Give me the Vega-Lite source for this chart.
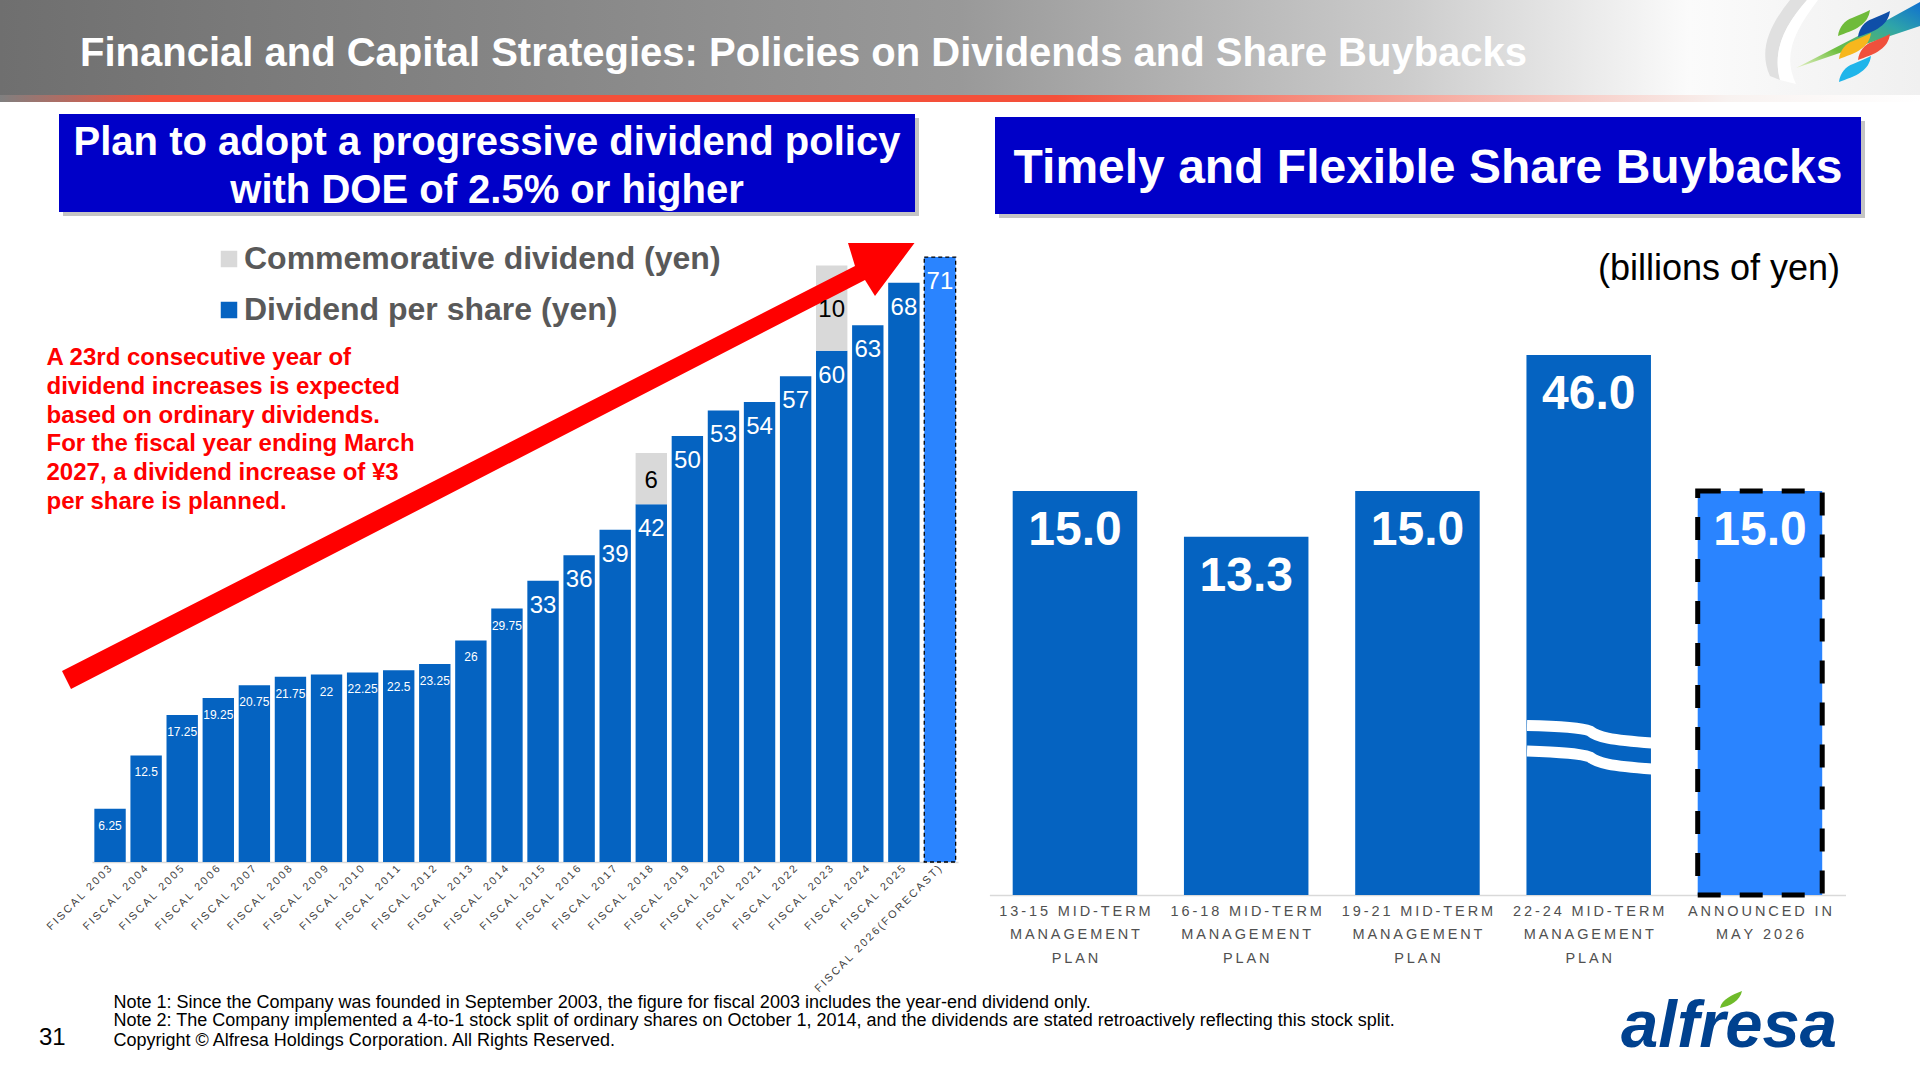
{
  "$schema": "https://vega.github.io/schema/vega-lite/v6.json",
  "padding": 0,
  "bounds": "flush",
  "spacing": 0,
  "background": "white",
  "datasets": {
    "dividends": [
      {"year": "FISCAL 2003", "series": "Dividend per share (yen)", "value": 6.25},
      {"year": "FISCAL 2004", "series": "Dividend per share (yen)", "value": 12.5},
      {"year": "FISCAL 2005", "series": "Dividend per share (yen)", "value": 17.25},
      {"year": "FISCAL 2006", "series": "Dividend per share (yen)", "value": 19.25},
      {"year": "FISCAL 2007", "series": "Dividend per share (yen)", "value": 20.75},
      {"year": "FISCAL 2008", "series": "Dividend per share (yen)", "value": 21.75},
      {"year": "FISCAL 2009", "series": "Dividend per share (yen)", "value": 22},
      {"year": "FISCAL 2010", "series": "Dividend per share (yen)", "value": 22.25},
      {"year": "FISCAL 2011", "series": "Dividend per share (yen)", "value": 22.5},
      {"year": "FISCAL 2012", "series": "Dividend per share (yen)", "value": 23.25},
      {"year": "FISCAL 2013", "series": "Dividend per share (yen)", "value": 26},
      {"year": "FISCAL 2014", "series": "Dividend per share (yen)", "value": 29.75},
      {"year": "FISCAL 2015", "series": "Dividend per share (yen)", "value": 33},
      {"year": "FISCAL 2016", "series": "Dividend per share (yen)", "value": 36},
      {"year": "FISCAL 2017", "series": "Dividend per share (yen)", "value": 39},
      {"year": "FISCAL 2018", "series": "Dividend per share (yen)", "value": 42},
      {"year": "FISCAL 2018", "series": "Commemorative dividend (yen)", "value": 6},
      {"year": "FISCAL 2019", "series": "Dividend per share (yen)", "value": 50},
      {"year": "FISCAL 2020", "series": "Dividend per share (yen)", "value": 53},
      {"year": "FISCAL 2021", "series": "Dividend per share (yen)", "value": 54},
      {"year": "FISCAL 2022", "series": "Dividend per share (yen)", "value": 57},
      {"year": "FISCAL 2023", "series": "Dividend per share (yen)", "value": 60},
      {"year": "FISCAL 2023", "series": "Commemorative dividend (yen)", "value": 10},
      {"year": "FISCAL 2024", "series": "Dividend per share (yen)", "value": 63},
      {"year": "FISCAL 2025", "series": "Dividend per share (yen)", "value": 68},
      {"year": "FISCAL 2026(FORECAST)", "series": "Dividend per share (yen)", "value": 71}
    ],
    "buybacks": [
      {"plan": "13-15 MID-TERM MANAGEMENT PLAN", "value": 15.0, "label": "15.0"},
      {"plan": "16-18 MID-TERM MANAGEMENT PLAN", "value": 13.3, "label": "13.3"},
      {"plan": "19-21 MID-TERM MANAGEMENT PLAN", "value": 15.0, "label": "15.0"},
      {"plan": "22-24 MID-TERM MANAGEMENT PLAN", "value": 46.0, "label": "46.0"},
      {"plan": "ANNOUNCED IN MAY 2026", "value": 15.0, "label": "15.0"}
    ],
    "one": [{}]
  },
  "vconcat": [
    {
      "width": 1920,
      "height": 102,
      "data": {"name": "one"},
      "layer": [
        {"mark": {"type": "rect", "x": 0, "x2": 1920, "y": 0, "y2": 96, "fill": {"x1": 0, "y1": 0, "x2": 1, "y2": 0, "gradient": "linear", "stops": [{"offset": 0, "color": "#6f6f6f"}, {"offset": 0.5, "color": "#999999"}, {"offset": 0.73, "color": "#cbcbcb"}, {"offset": 0.88, "color": "#fbfbfb"}, {"offset": 1, "color": "#f0f0f0"}]}}},
        {"mark": {"type": "rect", "x": 0, "x2": 1920, "y": 95, "y2": 102, "fill": {"x1": 0, "y1": 0, "x2": 1, "y2": 0, "gradient": "linear", "stops": [{"offset": 0, "color": "#808080"}, {"offset": 0.08, "color": "#f4503a"}, {"offset": 0.55, "color": "#f4503a"}, {"offset": 0.9, "color": "#f8f2f0"}, {"offset": 1, "color": "#ffffff"}]}}},
        {"mark": {"type": "point", "x": 0, "y": 0, "size": 4, "filled": true, "opacity": 1, "fill": "#e0e0e0", "stroke": null, "shape": "M1790 0 L1807 0 C1785 25 1772 50 1780 80 L1770 76 C1758 50 1770 25 1790 0 Z"}},
        {"mark": {"type": "point", "x": 0, "y": 0, "size": 4, "filled": true, "opacity": 1, "fill": "#ffffff", "stroke": null, "shape": "M1807 0 L1818 0 C1795 30 1782 55 1796 84 L1780 80 C1772 50 1785 25 1807 0 Z"}},
        {"mark": {"type": "point", "x": 0, "y": 0, "size": 4, "filled": true, "opacity": 1, "stroke": null, "fill": {"x1": 0, "y1": 1, "x2": 1, "y2": 0, "gradient": "linear", "stops": [{"offset": 0, "color": "#e8f2c8"}, {"offset": 0.3, "color": "#6fbf3f"}, {"offset": 0.7, "color": "#2fa5a8"}, {"offset": 1, "color": "#0f6fd0"}]}, "shape": "M1796 68 L1858 36 L1920 2 L1920 26 L1860 46 Z"}},
        {"mark": {"type": "point", "x": 0, "y": 0, "size": 4, "filled": true, "opacity": 1, "stroke": null, "fill": "#6fbb3a", "shape": "M1838 36 C1839 27 1845 20 1852 18 C1858 15 1865 13 1870 10 C1869 17 1866 22 1860 26 C1854 31 1845 33 1838 36 Z"}},
        {"mark": {"type": "point", "x": 0, "y": 0, "size": 4, "filled": true, "opacity": 1, "stroke": null, "fill": "#0f4fa8", "shape": "M1858 37 C1859 28 1865 21 1872 19 C1878 16 1885 14 1890 11 C1889 18 1886 23 1880 27 C1874 32 1865 34 1858 37 Z"}},
        {"mark": {"type": "point", "x": 0, "y": 0, "size": 4, "filled": true, "opacity": 1, "stroke": null, "fill": "#f7b71d", "shape": "M1839 59 C1840 50 1846 43 1853 41 C1859 38 1866 36 1871 33 C1870 40 1867 45 1861 49 C1855 54 1846 56 1839 59 Z"}},
        {"mark": {"type": "point", "x": 0, "y": 0, "size": 4, "filled": true, "opacity": 1, "stroke": null, "fill": "#f0503c", "shape": "M1858 60 C1859 51 1865 44 1872 42 C1878 39 1885 37 1890 34 C1889 41 1886 46 1880 50 C1874 55 1865 57 1858 60 Z"}},
        {"mark": {"type": "point", "x": 0, "y": 0, "size": 4, "filled": true, "opacity": 1, "stroke": null, "fill": "#1fb5ea", "shape": "M1839 82 C1840 73 1846 66 1853 64 C1859 61 1866 59 1871 56 C1870 63 1867 68 1861 72 C1855 77 1846 79 1839 82 Z"}},
        {"mark": {"type": "text", "text": "Financial and Capital Strategies: Policies on Dividends and Share Buybacks", "x": 80, "y": 54, "align": "left", "baseline": "middle", "font": "Liberation Sans", "fontWeight": "bold", "fontSize": 40, "fill": "white"}}
      ]
    },
    {
      "spacing": 0,
      "bounds": "flush",
      "hconcat": [
        {
          "width": 985,
          "height": 760,
          "data": {"name": "dividends"},
          "encoding": {
            "x": {
              "field": "year",
              "type": "nominal",
              "sort": null,
              "title": null,
              "scale": {"range": [92, 958], "paddingInner": 0.13, "paddingOuter": 0.065},
              "axis": {
                "labelAngle": -45,
                "labelAlign": "right",
                "labelBaseline": "middle",
                "labelFont": "Liberation Sans",
                "labelFontSize": 10.8,
                "labelColor": "#404040",
                "labelPadding": 5,
                "labelOverlap": false,
                "labelLimit": 0,
                "labelExpr": "join(split(datum.label,''),'\u2009')",
                "ticks": false,
                "domainColor": "#d9d9d9",
                "domainWidth": 1.5
              }
            },
            "y": {
              "field": "value",
              "type": "quantitative",
              "scale": {"domain": [0, 89.2], "nice": false},
              "axis": null
            }
          },
          "layer": [
            {
              "transform": [{"filter": "datum.year != 'FISCAL 2026(FORECAST)'"}],
              "mark": {"type": "bar"},
              "encoding": {
                "color": {
                  "field": "series",
                  "type": "nominal",
                  "scale": {"domain": ["Commemorative dividend (yen)", "Dividend per share (yen)"], "range": ["#d9d9d9", "#0563c1"]},
                  "legend": {
                    "title": null,
                    "orient": "none",
                    "legendX": 213,
                    "legendY": 243,
                    "symbolType": "square",
                    "symbolSize": 272,
                    "symbolStrokeWidth": 0,
                    "labelFont": "Liberation Sans",
                    "labelFontSize": 32,
                    "labelFontWeight": "bold",
                    "labelColor": "#595959",
                    "labelOffset": -1,
                    "labelLimit": 0,
                    "rowPadding": 19
                  }
                }
              }
            },
            {
              "transform": [{"filter": "datum.year == 'FISCAL 2026(FORECAST)'"}],
              "mark": {"type": "bar", "fill": "#2a84ff", "stroke": "#000000", "strokeWidth": 1.3, "strokeDash": [4, 3]}
            },
            {
              "data": {"name": "one"},
              "mark": {"type": "rect", "x": 63, "x2": 919, "y": 16, "y2": 114, "fill": "#c4c4c4"},
              "encoding": {"x": null, "y": null}
            },
            {
              "data": {"name": "one"},
              "mark": {"type": "rect", "x": 59, "x2": 915, "y": 12, "y2": 110, "fill": "#0000c8"},
              "encoding": {"x": null, "y": null}
            },
            {
              "data": {"name": "one"},
              "mark": {"type": "text", "text": ["Plan to adopt a progressive dividend policy", "with DOE of 2.5% or higher"], "x": 487, "y": 41, "align": "center", "baseline": "middle", "lineHeight": 47.5, "font": "Liberation Sans", "fontWeight": "bold", "fontSize": 40, "fill": "white"},
              "encoding": {"x": null, "y": null}
            },
            {
              "data": {"name": "one"},
              "mark": {"type": "text", "text": ["A 23rd consecutive year of", "dividend increases is expected", "based on ordinary dividends.", "For the fiscal year ending March", "2027, a dividend increase of ¥3", "per share is planned."], "x": 46.5, "y": 256, "align": "left", "baseline": "middle", "lineHeight": 28.8, "font": "Liberation Sans", "fontWeight": "bold", "fontSize": 24, "fill": "#ff0000"},
              "encoding": {"x": null, "y": null}
            },
            {
              "data": {"name": "one"},
              "mark": {"type": "point", "x": 0, "y": 0, "size": 4, "filled": true, "opacity": 1, "fill": "#ff0000", "stroke": null, "shape": "M62 569 L855 164 L848 141 L914.5 141 L875 194 L865 178 L71 587 Z"},
              "encoding": {"x": null, "y": null}
            },
            {
              "transform": [{"filter": "datum.series == 'Dividend per share (yen)' && datum.value < 33"}],
              "mark": {"type": "text", "color": "white", "font": "Liberation Sans", "fontSize": 12, "dy": 17, "baseline": "middle"},
              "encoding": {"text": {"field": "value", "type": "nominal"}}
            },
            {
              "transform": [{"filter": "datum.series == 'Dividend per share (yen)' && datum.value >= 33"}],
              "mark": {"type": "text", "color": "white", "font": "Liberation Sans", "fontSize": 24, "dy": 25, "baseline": "middle"},
              "encoding": {"text": {"field": "value", "type": "nominal"}}
            },
            {
              "mark": {"type": "text", "color": "black", "font": "Liberation Sans", "fontSize": 24, "dy": 2, "baseline": "middle"},
              "encoding": {
                "y": {"field": "value", "type": "quantitative", "stack": "zero", "bandPosition": 0.5},
                "detail": {"field": "series"},
                "text": {"condition": {"test": "datum.series == 'Commemorative dividend (yen)'", "field": "value", "type": "nominal"}, "value": ""}
              }
            },
            {
              "data": {"name": "one"},
              "mark": {"type": "text", "text": "Note 1: Since the Company was founded in September 2003, the figure for fiscal 2003 includes the year-end dividend only.", "x": 113.5, "y": 901, "align": "left", "baseline": "middle", "font": "Liberation Sans", "fontSize": 18, "fill": "black"},
              "encoding": {"x": null, "y": null}
            },
            {
              "data": {"name": "one"},
              "mark": {"type": "text", "text": "Note 2: The Company implemented a 4-to-1 stock split of ordinary shares on October 1, 2014, and the dividends are stated retroactively reflecting this stock split.", "x": 113.5, "y": 918.7, "align": "left", "baseline": "middle", "font": "Liberation Sans", "fontSize": 18, "fill": "black"},
              "encoding": {"x": null, "y": null}
            },
            {
              "data": {"name": "one"},
              "mark": {"type": "text", "text": "Copyright © Alfresa Holdings Corporation. All Rights Reserved.", "x": 113.5, "y": 938.7, "align": "left", "baseline": "middle", "font": "Liberation Sans", "fontSize": 18, "fill": "black"},
              "encoding": {"x": null, "y": null}
            },
            {
              "data": {"name": "one"},
              "mark": {"type": "text", "text": "31", "x": 39, "y": 936, "align": "left", "baseline": "middle", "font": "Liberation Sans", "fontSize": 24, "fill": "black"},
              "encoding": {"x": null, "y": null}
            },
            {
              "data": {"name": "one"},
              "mark": {"type": "text", "text": "alfresa", "x": 1621, "y": 945, "align": "left", "baseline": "alphabetic", "font": "Liberation Sans", "fontWeight": "bold", "fontStyle": "italic", "fontSize": 67, "fill": "#00418f"},
              "encoding": {"x": null, "y": null}
            },
            {
              "data": {"name": "one"},
              "mark": {"type": "point", "x": 0, "y": 0, "size": 4, "filled": true, "opacity": 1, "stroke": null, "fill": "#6fbb2a", "shape": "M1720 906 C1722 897 1732 893 1742 889 C1740 899 1730 904 1720 906 Z"},
              "encoding": {"x": null, "y": null}
            }
          ]
        },
        {
          "width": 935,
          "height": 793,
          "data": {"name": "buybacks"},
          "encoding": {
            "x": {
              "field": "plan",
              "type": "nominal",
              "sort": null,
              "title": null,
              "scale": {"range": [4.4, 860.5], "paddingInner": 0.273, "paddingOuter": 0.136},
              "axis": {
                "labelAngle": 0,
                "labelAlign": "center",
                "labelBaseline": "top",
                "labelFont": "Liberation Sans",
                "labelFontSize": 14.5,
                "labelLineHeight": 23.5,
                "labelColor": "#505050",
                "labelPadding": 9,
                "labelOverlap": false,
                "labelLimit": 0,
                "labelExpr": "split(join(split(replace(replace(replace(datum.label,' MANAGEMENT','|MANAGEMENT'),' PLAN','|PLAN'),' MAY','|MAY'),''),'\u2009'),'\u2009|\u2009')",
                "ticks": false,
                "domainColor": "#d9d9d9",
                "domainWidth": 1.5
              }
            },
            "y": {
              "field": "value",
              "type": "quantitative",
              "scale": {"domain": [0, 15, 46], "range": [793, 389, 253], "nice": false, "zero": false},
              "axis": null
            }
          },
          "layer": [
            {
              "transform": [{"filter": "datum.plan != 'ANNOUNCED IN MAY 2026'"}],
              "mark": {"type": "bar", "fill": "#0563c1"}
            },
            {
              "transform": [{"filter": "datum.plan == 'ANNOUNCED IN MAY 2026'"}],
              "mark": {"type": "bar", "fill": "#2a84ff", "stroke": "#000000", "strokeWidth": 5, "strokeDash": [23, 19]}
            },
            {
              "data": {"name": "one"},
              "mark": {"type": "point", "x": 0, "y": 0, "size": 4, "filled": false, "opacity": 1, "stroke": "white", "strokeWidth": 11, "shape": "M542 623.5 C570 624 595 625 605 629 C612 635 625 638 667 641 M542 649 C570 650 595 651 605 655 C612 661 625 664 667 667"},
              "encoding": {"x": null, "y": null}
            },
            {
              "mark": {"type": "text", "color": "white", "font": "Liberation Sans", "fontWeight": "bold", "fontSize": 48, "dy": 40, "baseline": "middle"},
              "encoding": {"text": {"field": "label", "type": "nominal"}}
            },
            {
              "data": {"name": "one"},
              "mark": {"type": "rect", "x": 14, "x2": 880, "y": 19, "y2": 116, "fill": "#c4c4c4"},
              "encoding": {"x": null, "y": null}
            },
            {
              "data": {"name": "one"},
              "mark": {"type": "rect", "x": 10, "x2": 876, "y": 15, "y2": 112, "fill": "#0000c8"},
              "encoding": {"x": null, "y": null}
            },
            {
              "data": {"name": "one"},
              "mark": {"type": "text", "text": "Timely and Flexible Share Buybacks", "x": 443, "y": 67, "align": "center", "baseline": "middle", "font": "Liberation Sans", "fontWeight": "bold", "fontSize": 48, "fill": "white"},
              "encoding": {"x": null, "y": null}
            },
            {
              "data": {"name": "one"},
              "mark": {"type": "text", "text": "(billions of yen)", "x": 855, "y": 167, "align": "right", "baseline": "middle", "font": "Liberation Sans", "fontSize": 36, "fill": "black"},
              "encoding": {"x": null, "y": null}
            }
          ]
        }
      ]
    }
  ],
  "config": {
    "view": {"stroke": null},
    "font": "Liberation Sans"
  }
}
